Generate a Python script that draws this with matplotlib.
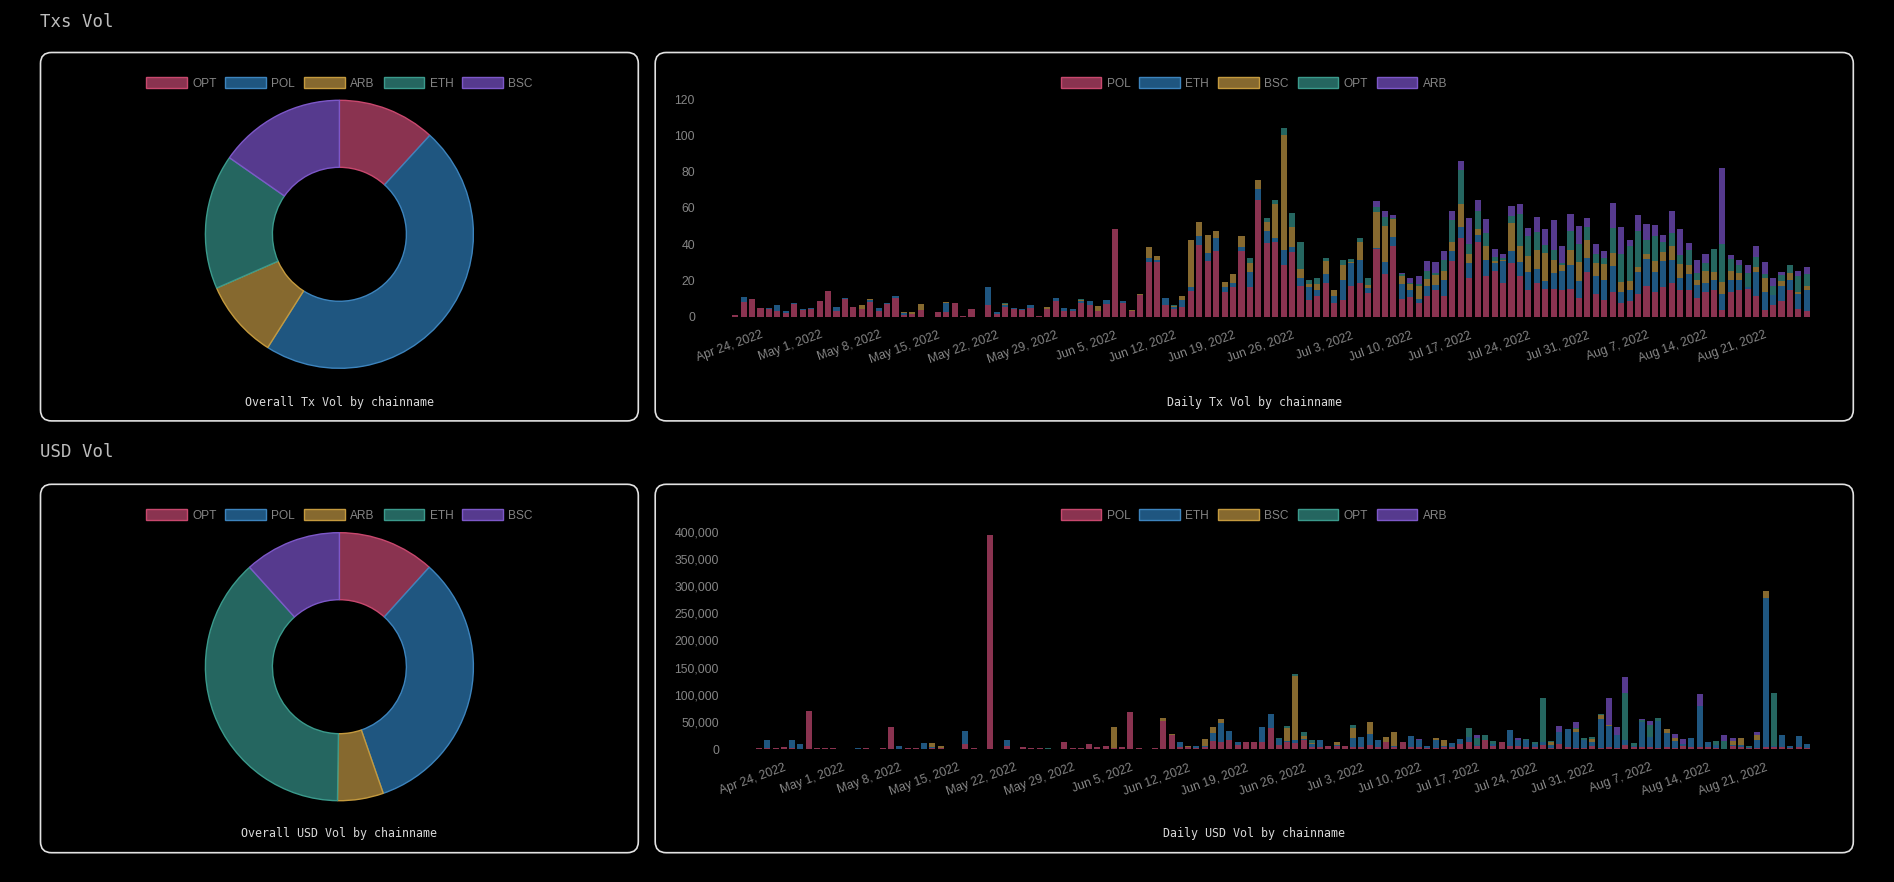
import matplotlib
matplotlib.use("Agg")
import matplotlib.pyplot as plt
import matplotlib.dates as mdates
from matplotlib.patches import FancyBboxPatch, Patch
from matplotlib.ticker import FuncFormatter, MultipleLocator
from matplotlib.transforms import IdentityTransform
import numpy as np
import pandas as pd

# ---------------------------------------------------------------------------
# data
# ---------------------------------------------------------------------------
days = pd.date_range("2022-04-21", "2022-08-26", freq="D")

bar_chains = ["POL", "ETH", "BSC", "OPT", "ARB"]
donut_chains = ["OPT", "POL", "ARB", "ETH", "BSC"]

tx_pol = [1, 8, 10, 5, 4, 3, 2, 7, 3.5, 4.5, 8.5, 14, 3, 9.5, 5.5, 4.5,
          8, 3, 7, 10.5, 1, 1.5, 3.5, 0, 2.5, 2.5, 7.5, 0.5, 4.5, 0, 6.5, 1.5,
          5.5, 4, 3.5, 5, 0.5, 4.5, 8.5, 3, 3, 7.5, 6.5, 3, 7, 48.5, 7.5, 3,
          12, 30, 30, 6.5, 4, 5.5, 14, 39.5, 31, 36.5, 13.5, 16.5, 36.5, 16.5, 64.5, 40.5,
          41.5, 28.5, 35.5, 17, 9, 11.5, 18.5, 7.5, 9, 17, 18.5, 13, 37.5, 23.5, 39, 10,
          11, 7.5, 11.5, 14.5, 11.5, 31, 43.5, 21.5, 41.5, 22.5, 25.5, 18.5, 29.5, 22.5, 14.5, 18.5,
          15.5, 15.5, 14.5, 15.5, 10.5, 24.5, 12.5, 9, 13.5, 7.5, 8.5, 12.5, 17, 13.5, 16.5, 18.5,
          14.5, 14.5, 10.5, 13.5, 14.5, 3.5, 13.5, 14.5, 15.5, 11.5, 3.5, 6.5, 8.5, 14.5, 4, 3]
tx_eth = [0, 3, 0, 0, 1, 3.5, 1, 0.5, 1, 0.5, 0, 0, 2.5, 0.7, 0, 0,
          1, 2, 0.5, 1, 1, 0, 0, 0, 0, 5, 0, 0, 0, 0, 10, 1,
          1, 1, 1, 1.5, 0, 0, 2, 2, 1, 1.3, 2, 0, 2.2, 0, 1, 0,
          0, 2.5, 1.3, 4, 1.3, 3.7, 2.5, 5, 4.3, 7, 2.8, 2.2, 2, 8.3, 6, 7,
          2.2, 8.2, 3.1, 4.4, 7.4, 3.1, 5.2, 4, 11.4, 12.4, 12.9, 2.8, 0.5, 6.8, 5.2, 8.3,
          3.7, 2.2, 5.2, 3, 9, 5.2, 5.9, 8, 3.7, 8.6, 4.1, 12, 7, 7.7, 10, 7.9,
          4, 8.8, 11, 12.8, 9.2, 7.7, 10.2, 11.4, 14.7, 6.4, 6.4, 12.4, 15.1, 11.2, 14, 12.7,
          6.8, 9.2, 7, 5, 5.9, 8.8, 7, 5.9, 0.9, 13.1, 10.1, 5.6, 8.3, 5.9, 8.7, 11.9]
tx_bsc = [0, 0, 0, 0, 0, 0, 0, 0, 0, 0, 0, 0, 0, 0, 0, 1.8,
          1, 0, 0, 0, 0.5, 1, 3.7, 0, 0, 0.6, 0, 0, 0, 0, 0, 0,
          0.5, 0, 0, 0, 0, 1, 0, 0, 0.5, 0.5, 0, 2.7, 0, 0, 0, 0.7,
          0.7, 6, 2.4, 0, 0.5, 2.2, 26, 7.7, 10, 3.7, 3.1, 5, 6, 4.6, 4.8, 4.8,
          18.6, 63.4, 10.9, 4.8, 1.4, 3.7, 6.8, 3.1, 7.9, 0.9, 10.1, 1.8, 20, 19.9, 10, 4.3,
          3.2, 7, 4, 5.5, 4.8, 4.9, 12.8, 5.1, 3.3, 7.7, 0.9, 0.9, 15.1, 8.6, 8.8, 10.2,
          15.7, 6.8, 2.8, 8.7, 10.7, 10.2, 6.8, 8.9, 6.8, 5.5, 4.6, 2.7, 2.4, 5.9, 5, 7.7,
          7.9, 4.9, 2.8, 6.8, 4, 6.8, 4.8, 3.7, 0, 3.1, 7.7, 0, 2.7, 3.9, 0.9, 1.9]
tx_opt = [0, 0, 0, 0, 0, 0, 0, 0, 0, 0, 0, 0, 0, 0, 0, 0,
          0, 0, 0, 0, 0, 0, 0, 0, 0, 0, 0, 0, 0, 0, 0, 0,
          0.5, 0, 0, 0, 0, 0, 0, 0, 0, 0.5, 0, 0, 0, 0, 0, 0,
          0, 0, 0, 0, 0.5, 0, 0, 0, 0, 0, 0, 0, 0, 3.1, 0, 2,
          2.2, 4, 7.7, 15, 2.3, 2.8, 1.8, 0, 2.8, 1.8, 2.1, 3.7, 2.7, 5, 0.5, 1.2,
          0.5, 1.4, 4.8, 1.3, 5.9, 12.4, 18.8, 5.5, 9.6, 7.4, 2.4, 0.9, 4, 18.1, 11.1, 9.9,
          4.2, 5.9, 1.3, 10.3, 9.7, 7, 5.1, 3.3, 14, 15.3, 19.4, 19.9, 7.8, 13.8, 5.7, 7.4,
          4.6, 8, 3.7, 4.3, 12.9, 20.8, 6.8, 4.2, 7.9, 5.2, 2.1, 5.1, 3.4, 4, 8.9, 7]
tx_arb = [0, 0, 0, 0, 0, 0, 0, 0, 0, 0, 0, 0, 0, 0, 0, 0,
          0, 0, 0, 0, 0, 0, 0, 0, 0, 0, 0, 0, 0, 0, 0, 0,
          0, 0, 0, 0, 0, 0, 0, 0, 0, 0, 0, 0, 0, 0, 0, 0,
          0, 0, 0, 0, 0, 0, 0, 0, 0, 0, 0, 0, 0, 0, 0, 0,
          0, 0, 0, 0, 0, 0, 0, 0, 0, 0, 0, 0, 3, 3.1, 1.5, 0.5,
          3.2, 4.5, 5, 6, 5.2, 4.6, 5.2, 14.2, 6.5, 7.9, 4.4, 2.2, 5.5, 5.1, 4.8, 8.8,
          8.8, 16.2, 9.2, 9.6, 10.2, 4.9, 5.5, 3.7, 13.8, 14.8, 3.7, 8.7, 8.8, 6.1, 4, 12,
          14.7, 4, 7.3, 5.1, 0, 42, 2.2, 2.8, 4, 6.4, 6.8, 4.4, 1.8, 0, 2.7, 3.7]

usd_pol = [1000, 2000, 1800, 3700, 1500, 0, 70000, 2500, 1000, 1000, 0, 800, 0, 1500, 0, 1500,
           41000, 0, 2000, 2000, 0, 2000, 1500, 0, 500, 8600, 2000, 500, 394000, 0, 6000, 500,
           3000, 2000, 2000, 0, 0, 12300, 1500, 1500, 8600, 3000, 5500, 1000, 3000, 68000, 1500, 500,
           2500, 51000, 25000, 4000, 3000, 2000, 4000, 15500, 12400, 16600, 7000, 12300, 12000, 12300, 38000, 7400,
           12000, 10400, 16600, 3000, 3000, 5500, 5000, 5500, 4000, 3000, 8000, 3000, 12000, 3000, 13500, 3000,
           3000, 1500, 1500, 3000, 3000, 10000, 12000, 5000, 16600, 5000, 12300, 5000, 5000, 4000, 3000, 7400,
           2000, 10000, 3000, 1000, 1000, 5000, 1000, 3000, 1000, 7000, 3000, 3000, 3000, 1000, 3000, 1500,
           5000, 3000, 4000, 3000, 2000, 500, 5000, 3000, 2000, 1000, 4000, 3000, 3000, 1000, 3000, 1000]
usd_eth = [0, 14600, 0, 0, 14500, 8600, 0, 0, 0, 0, 0, 0, 1000, 0, 0, 0,
           0, 4900, 0, 0, 10400, 1000, 0, 0, 0, 24600, 0, 0, 0, 0, 10000, 0,
           0, 0, 0, 0, 0, 0, 0, 0, 0, 0, 0, 0, 0, 0, 0, 0,
           0, 0, 0, 9000, 0, 2900, 2000, 13500, 35000, 17000, 5300, 0, 0, 27700, 26500, 10400,
           2500, 6200, 1000, 7000, 13500, 0, 1500, 0, 15500, 19700, 19500, 13600, 0, 3000, 0, 21500,
           14000, 3400, 16000, 2000, 8600, 9000, 10000, 2000, 0, 5000, 0, 30000, 12000, 12600, 6000, 6000,
           5000, 22000, 33800, 30000, 16000, 7000, 54000, 39000, 25000, 9000, 3000, 47000, 19000, 51000, 27000, 13000,
           5000, 16600, 75000, 10500, 5000, 0, 2000, 5000, 1000, 16000, 275000, 2000, 22200, 5100, 21000, 7600]
usd_bsc = [0, 0, 0, 0, 0, 0, 0, 0, 0, 0, 0, 0, 0, 0, 0, 0,
           0, 0, 0, 0, 0, 8600, 3400, 0, 0, 0, 0, 0, 0, 0, 0, 0,
           0, 0, 0, 0, 0, 0, 0, 0, 0, 0, 0, 40000, 0, 0, 0, 0,
           0, 7000, 2000, 0, 1900, 0, 12000, 11500, 8000, 500, 0, 0, 1500, 0, 0, 1500,
           23500, 118000, 6400, 1000, 0, 0, 7000, 0, 18500, 0, 21500, 0, 10500, 26000, 0, 0,
           0, 0, 2500, 11600, 0, 0, 0, 0, 0, 0, 0, 0, 0, 0, 0, 0,
           5000, 0, 0, 5000, 0, 6000, 7000, 1500, 0, 0, 0, 0, 0, 0, 6000, 5000,
           0, 0, 0, 0, 0, 0, 7000, 13000, 0, 8000, 12600, 0, 0, 0, 0, 0]
usd_opt = [0, 0, 0, 0, 0, 0, 0, 0, 0, 0, 0, 0, 0, 0, 0, 0,
           0, 0, 0, 0, 0, 0, 0, 0, 0, 0, 0, 0, 0, 0, 0, 0,
           0, 0, 0, 1000, 0, 0, 0, 0, 0, 0, 0, 0, 0, 0, 0, 0,
           0, 0, 0, 0, 0, 0, 0, 0, 0, 0, 0, 0, 0, 0, 0, 1500,
           4000, 4500, 6700, 5600, 0, 0, 0, 0, 6200, 0, 0, 0, 0, 0, 0, 0,
           0, 0, 0, 0, 0, 0, 16000, 13000, 8600, 5400, 0, 0, 0, 2000, 3300, 80000,
           2700, 0, 0, 3000, 2600, 3600, 3000, 0, 0, 88000, 5600, 3000, 22000, 6000, 1500, 0,
           0, 0, 0, 0, 7200, 14000, 0, 0, 3100, 0, 0, 97500, 0, 0, 0, 0]
usd_arb = [0, 0, 0, 0, 0, 0, 0, 0, 0, 0, 0, 0, 0, 0, 0, 0,
           0, 0, 0, 0, 0, 0, 0, 0, 0, 0, 0, 0, 0, 0, 0, 0,
           0, 0, 0, 0, 0, 0, 0, 0, 0, 0, 0, 0, 0, 0, 0, 0,
           0, 0, 0, 0, 0, 0, 0, 0, 0, 0, 0, 0, 0, 0, 0, 0,
           0, 0, 0, 0, 0, 0, 0, 0, 0, 0, 0, 0, 0, 0, 0, 0,
           1000, 0, 0, 0, 0, 0, 0, 6400, 0, 0, 0, 0, 4000, 0, 0, 1500,
           0, 10000, 0, 10700, 0, 0, 0, 49800, 14000, 28000, 0, 3000, 8000, 0, 0, 9000,
           8000, 0, 22000, 0, 0, 11000, 7000, 0, 0, 5700, 0, 0, 0, 0, 0, 0]

# chart.js style palette, applied by dataset index
fills = ["#8a3350", "#1f5680", "#86692f", "#256660", "#563a8e"]
edges = ["#c8486e", "#3d84bd", "#c49a3e", "#3b9a8c", "#7d58c8"]

W, H = 1894, 882
BG = "#000000"
FRAME = "#e2e2e2"
TICK = "#858585"

#-----------------------------------------------------------------------------#

def rect(x0, y0, x1, y1):
    '''pixel box (top-left origin) -> figure fraction rect'''
    return [x0 / W, 1 - y1 / H, (x1 - x0) / W, (y1 - y0) / H]


def panel(fig, x0, y0, x1, y1):
    box = FancyBboxPatch((x0, H - y1), x1 - x0, y1 - y0,
                         boxstyle="round,pad=0,rounding_size=11",
                         transform=IdentityTransform(), facecolor="none",
                         edgecolor=FRAME, linewidth=1.2)
    fig.patches.append(box)


def legend(fig, labels, cx, cy):
    handles = [Patch(facecolor=f, edgecolor=e, linewidth=1.0) for f, e in zip(fills, edges)]
    lg = fig.legend(handles, labels, loc="center", bbox_to_anchor=(cx / W, 1 - cy / H),
                    ncol=5, frameon=False, handlelength=3.4,
                    handleheight=1.05, handletextpad=0.45, columnspacing=0.75,
                    prop={"family": "Liberation Sans", "size": 8.6})
    for t in lg.get_texts():
        t.set_color(TICK)


def donut(fig, values, cx, cy, r=134):
    ax = fig.add_axes(rect(cx - r, cy - r, cx + r, cy + r))
    wedges, _ = ax.pie(values, colors=fills, startangle=90, counterclock=False,
                       wedgeprops=dict(width=0.5, linewidth=1.0))
    for w, e in zip(wedges, edges):
        w.set_edgecolor(e)
    ax.set_xlim(-1.0, 1.0)
    ax.set_ylim(-1.0, 1.0)
    ax.set_facecolor("none")


def date_label(v, pos):
    d = mdates.num2date(v)
    return "{0:%b} {1}, {2}".format(d, d.day, d.year)


def stacked(fig, series, box, ymax, ystep, fmt):
    ax = fig.add_axes(rect(*box))
    ax.set_facecolor("none")
    bottom = np.zeros(len(days))
    for vals, f in zip(series, fills):
        vals = np.asarray(vals, dtype=float)
        ax.bar(days, vals, width=0.72, bottom=bottom, color=f, linewidth=0)
        bottom += vals
    ax.set_xlim(days[0] - pd.Timedelta(hours=12), days[-1] + pd.Timedelta(hours=12))
    ax.set_ylim(0, ymax)
    ax.yaxis.set_major_locator(MultipleLocator(ystep))
    ax.yaxis.set_major_formatter(FuncFormatter(fmt))
    ax.xaxis.set_major_locator(mdates.WeekdayLocator(byweekday=mdates.SU))
    ax.xaxis.set_major_formatter(FuncFormatter(date_label))
    for s in ax.spines.values():
        s.set_visible(False)
    ax.tick_params(axis="both", length=0, colors=TICK, labelsize=8.8)
    ax.tick_params(axis="y", pad=26)
    ax.tick_params(axis="x", pad=9)
    for lab in ax.get_yticklabels() + ax.get_xticklabels():
        lab.set_family("Liberation Sans")
    for lab in ax.get_xticklabels():
        lab.set_rotation(20)
        lab.set_ha("right")
        lab.set_rotation_mode("anchor")
    return ax

#-----------------------------------------------------------------------------#

fig = plt.figure(figsize=(W / 100, H / 100), dpi=100, facecolor=BG)
mono = "DejaVu Sans Mono"

# section headers
fig.text(40 / W, 1 - 22 / H, "Txs Vol", color="#bdbdbd", fontsize=12.5,
         family=mono, va="center", ha="left")
fig.text(40 / W, 1 - 452 / H, "USD Vol", color="#bdbdbd", fontsize=12.5,
         family=mono, va="center", ha="left")

# frames
panel(fig, 40.5, 52.5, 638.3, 420.9)
panel(fig, 655.2, 52.5, 1853.3, 420.9)
panel(fig, 40.5, 484.3, 638.3, 852.7)
panel(fig, 655.2, 484.3, 1853.3, 852.7)

# totals per chain feed the donuts
tx_series = [tx_pol, tx_eth, tx_bsc, tx_opt, tx_arb]
usd_series = [usd_pol, usd_eth, usd_bsc, usd_opt, usd_arb]
tx_tot = dict(zip(bar_chains, [sum(s) for s in tx_series]))
usd_tot = dict(zip(bar_chains, [sum(s) for s in usd_series]))

donut(fig, [tx_tot[c] for c in donut_chains], 339.4, 234.3)
donut(fig, [usd_tot[c] for c in donut_chains], 339.4, 666.7)

legend(fig, donut_chains, 339.4, 83.5)
legend(fig, bar_chains, 1254, 83.5)
legend(fig, donut_chains, 339.4, 515.5)
legend(fig, bar_chains, 1254, 515.5)

stacked(fig, tx_series, (731, 99.3, 1811, 316.7), 120, 20,
        lambda v, p: "{0:.0f}".format(v))
stacked(fig, usd_series, (755, 532, 1811, 749), 400000, 50000,
        lambda v, p: "{0:,.0f}".format(v))

# panel captions
for x, y, s in [(339.4, 402, "Overall Tx Vol by chainname"),
                (1254, 402, "Daily Tx Vol by chainname"),
                (339.4, 833.5, "Overall USD Vol by chainname"),
                (1254, 833.5, "Daily USD Vol by chainname")]:
    fig.text(x / W, 1 - y / H, s, color="#d8d8d8", fontsize=8.4, family=mono,
             ha="center", va="center")

fig.savefig("out.png", dpi=100, facecolor=BG)
